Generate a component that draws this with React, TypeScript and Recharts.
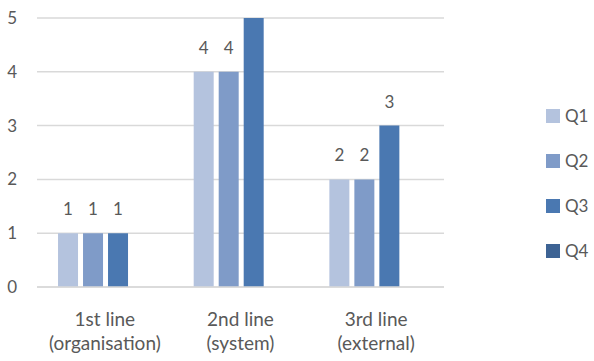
import React from 'react';
import { BarChart, Bar, XAxis, YAxis, CartesianGrid, LabelList } from 'recharts';

const categories = ['1st line|(organisation)', '2nd line|(system)', '3rd line|(external)'];
const q1 = [1, 4, 2];
const q2 = [1, 4, 2];
const q3 = [1, 5, 3];
const q4: (number | null)[] = [null, null, null];
const yTicks = [0, 1, 2, 3, 4, 5];

const series = [
  { key: 'Q1', color: '#b4c3de' },
  { key: 'Q2', color: '#7f9bc8' },
  { key: 'Q3', color: '#4a78b1' },
  { key: 'Q4', color: '#3d6394' },
];

const data = categories.map((name, i) => ({
  name,
  Q1: q1[i],
  Q2: q2[i],
  Q3: q3[i],
  Q4: q4[i],
}));

const FONT = 'Lato, "Open Sans", sans-serif';
const TEXT = '#595959';

// two-line category labels, split on "|"
const CategoryTick = ({ x, y, payload }: any) => {
  const [a, b] = String(payload.value).split('|');
  return (
    <text x={x} y={y} textAnchor="middle" fill={TEXT} fontSize={19} fontFamily={FONT}>
      <tspan x={x} dy={31}>{a}</tspan>
      <tspan x={x} dy={24}>{b}</tspan>
    </text>
  );
};

// vertical legend on the right
const SideLegend = () => (
  <svg width={60} height={190} style={{ position: 'absolute', left: 546, top: 94 }}>
    {series.map((s, i) => (
      <g key={s.key} transform={`translate(0, ${i * 45})`}>
        <rect x={0} y={15} width={14} height={14} fill={s.color} />
        <text x={19} y={28} fill={TEXT} fontSize={17} fontFamily={FONT}>{s.key}</text>
      </g>
    ))}
  </svg>
);

export default function App() {
  return (
    <div style={{ position: 'absolute', left: 0, top: 0, width: 594, height: 361, background: '#fff' }}>
      <BarChart
        width={594}
        height={361}
        data={data}
        margin={{ top: 18, right: 150, left: 0, bottom: 14 }}
        barCategoryGap="15.5%"
        barGap={5}
      >
        <CartesianGrid vertical={false} stroke="#d9d9d9" strokeWidth={1.5} />
        <XAxis
          dataKey="name"
          tick={<CategoryTick />}
          tickLine={false}
          axisLine={{ stroke: '#d9d9d9', strokeWidth: 1.5 }}
          height={60}
          interval={0}
        />
        <YAxis
          domain={[0, 5]}
          ticks={yTicks}
          width={37}
          axisLine={false}
          tickLine={false}
          tickSize={0}
          tickMargin={20}
          tick={{ fill: TEXT, fontSize: 17, fontFamily: FONT }}
        />
        {series.map((s) => (
          <Bar key={s.key} dataKey={s.key} fill={s.color} isAnimationActive={false}>
            <LabelList
              dataKey={s.key}
              position="top"
              offset={18}
              fill={TEXT}
              fontSize={17}
              fontFamily={FONT}
            />
          </Bar>
        ))}
      </BarChart>
      <SideLegend />
    </div>
  );
}
